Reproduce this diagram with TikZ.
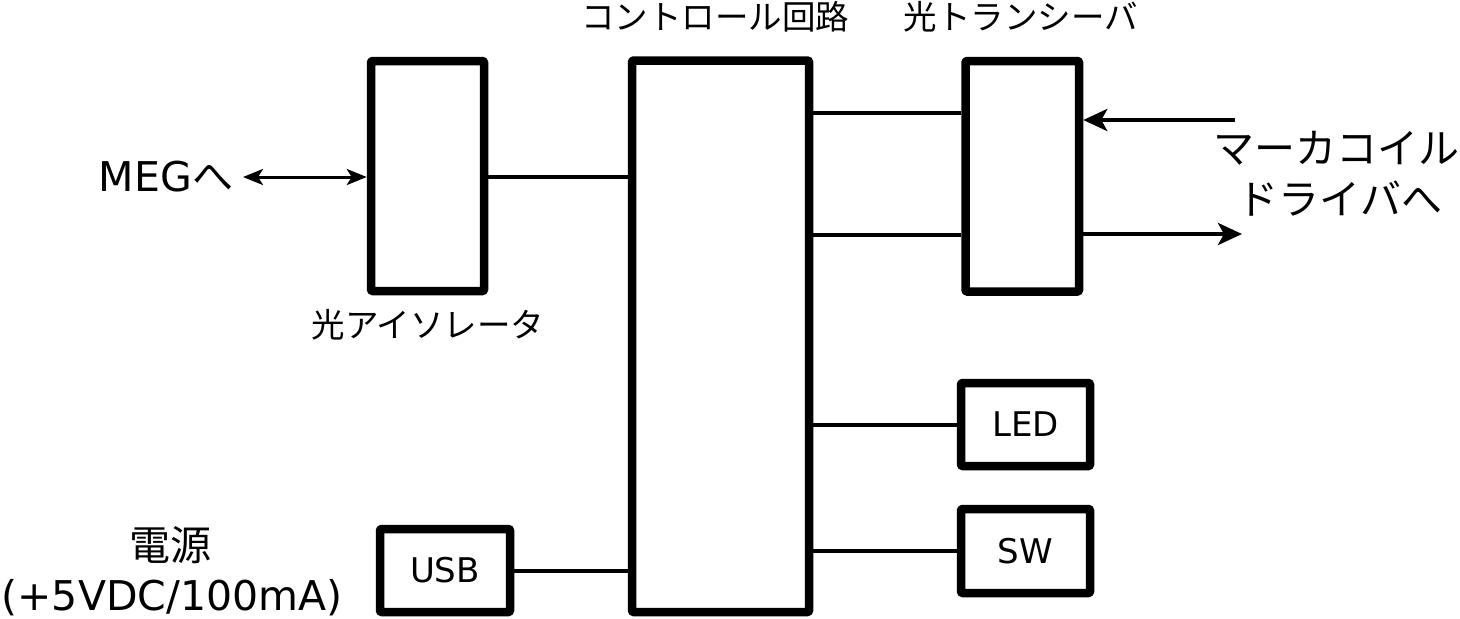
\documentclass[tikz,border=0pt]{standalone}
\usepackage{fontspec}
\setmainfont{DejaVu Sans}
\newfontfamily\jp{Noto Sans CJK JP}
\usetikzlibrary{arrows.meta}
\tikzset{
  blk/.style={draw, line width=4.25pt, line join=round, rounded corners=0.5pt, inner sep=0pt, fill=white},
  conn/.style={line width=2pt},
  big/.style={font=\fontsize{20.5pt}{24pt}\selectfont, inner sep=0pt},
  mid/.style={font=\fontsize{16.75pt}{20pt}\selectfont\jp, inner sep=0pt},
  lab/.style={font=\fontsize{17pt}{20pt}\selectfont, inner sep=0pt},
  tipB/.style={{Stealth[length=10pt,width=8pt,inset=2.5pt]}-{Stealth[length=10pt,width=8pt,inset=2.5pt]}},
  tipC/.style={-{Stealth[length=12pt,width=11pt,inset=3pt]}}
}
\begin{document}
\begin{tikzpicture}[x=0.5pt,y=-0.5pt]
\useasboundingbox (0,0) rectangle (1460,618);
% blocks
\node[blk, minimum width=56.5pt, minimum height=115pt] (iso) at (427.5,176) {};
\node[blk, minimum width=88.5pt, minimum height=275.75pt] (ctrl) at (720.5,336.25) {};
\node[blk, minimum width=56.75pt, minimum height=115.25pt] (trx) at (1022.25,176.25) {};
\node[blk, minimum width=64.5pt, minimum height=41.5pt] (led) at (1025.5,424.5) {};
\node[blk, minimum width=64.5pt, minimum height=42pt] (sw) at (1025.5,551) {};
\node[blk, minimum width=65pt, minimum height=41.5pt] (usb) at (445,570.5) {};
\node[lab] (ledtxt) at (led) {LED};
\node[lab] (swtxt) at (sw) {SW};
\node[lab] (usbtxt) at (usb) {USB};
% connectors
\draw[conn] (iso.east |- 0,177) -- (ctrl.west |- 0,177);
\draw[conn] (ctrl.east |- 0,113) -- (trx.west |- 0,113);
\draw[conn] (ctrl.east |- 0,235) -- (trx.west |- 0,235);
\draw[conn] (ctrl.east |- led.west) -- (led.west);
\draw[conn] (ctrl.east |- sw.west) -- (sw.west);
\draw[conn] (usb.east |- 0,571) -- (ctrl.west |- 0,571);
% arrows
\coordinate (megend) at (243,177);
\coordinate (inpt) at (1235,120);
\coordinate (outpt) at (1242,234);
\draw[line width=1.5pt, tipB] (megend) -- (iso.west |- megend);
\draw[conn, tipC] (inpt) -- (trx.east |- inpt);
\draw[conn, tipC] (trx.east |- outpt) -- (outpt);
% texts
\node[big] (megtxt) at (166,177) {MEG{\jp へ}};
\node[big, font=\fontsize{20.5pt}{24pt}\selectfont\jp] (mk1) at (1336,148) {マーカコイル};
\node[big, font=\fontsize{20.5pt}{24pt}\selectfont\jp] (mk2) at (1340,199) {ドライバへ};
\node[big, font=\fontsize{20.5pt}{24pt}\selectfont\jp] (pw1) at (170,545) {電源};
\node[big] (pw2) at (172,598) {(+5VDC/100mA)};
\node[mid] (ctrltxt) at (715,17) {コントロール回路};
\node[mid] (trxtxt) at (1021,17) {光トランシーバ};
\node[mid] (isotxt) at (428,325) {光アイソレータ};
\end{tikzpicture}
\end{document}
